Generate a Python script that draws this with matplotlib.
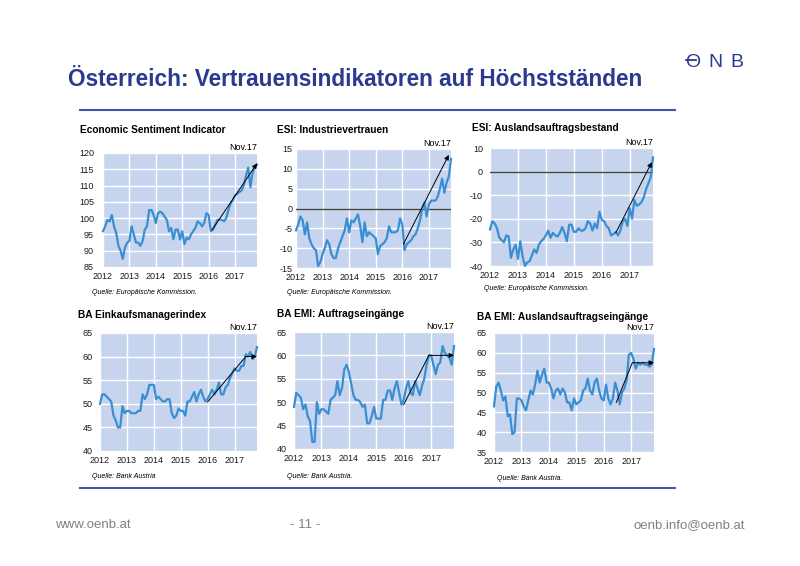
import numpy as np
import matplotlib
matplotlib.use("Agg")
import matplotlib.pyplot as plt

plt.rcParams['font.family'] = ['Liberation Sans', 'DejaVu Sans']
plt.rcParams['axes.unicode_minus'] = False

# Monatswerte Jan 2012 - Nov 2017
esi = [96, 97.5, 99.5, 99, 101, 97.5, 95.5, 91.5, 90, 87.5, 91, 92.5,
       93, 97.5, 95, 92.5, 92.5, 91.5, 93, 96.5, 97.5, 102.5, 102.5, 101,
       98.5, 101.5, 102, 101.5, 100.5, 99.5, 96, 97, 93.5, 96.5, 96.5, 93.5,
       96, 92, 94, 93.5, 95, 96, 97, 99, 98.5, 97.5, 98.5, 101.5,
       101, 96, 96.5, 98, 99.5, 99.5, 99.5, 99, 100, 102.5, 104.5, 105.5,
       107, 107.5, 108, 108.5, 110, 113, 115.5, 109.5, 114, 115.5, 116.5]
industrie = [-5.5, -4, -2, -3, -6.5, -3.5, -7.5, -9, -10, -10.5, -14.5, -13.5,
             -11.5, -10, -8, -9, -11.5, -12.5, -12.5, -10, -8.5, -7, -5.5, -2.5,
             -6, -3, -3.5, -2.5, -1.5, -4.5, -8.5, -3.5, -7, -6, -6.5, -7,
             -7.5, -11.5, -9.5, -9, -8.5, -7.5, -4.5, -6, -6, -6, -5.5, -2.5,
             -4, -10.5, -9, -8.5, -8, -7, -6.5, -5, -3, 0, 1.5, -2,
             1, 2, 2, 2, 3, 5, 7.5, 4, 6.5, 8, 12.5]
ausland_bestand = [-24.5, -21, -22, -24, -28, -29, -30, -27, -27.5, -36.5, -33, -31,
                   -37, -29.5, -36, -40, -38.5, -38, -35.5, -33, -34.5, -31, -29.5, -28.5,
                   -27, -25, -28, -26, -27, -27.5, -26, -23.5, -26, -29.5, -22.5, -22.5,
                   -25.5, -25.5, -24, -25, -25, -24, -21, -22, -25, -22, -24, -17,
                   -20.5, -21, -23, -24, -27, -26.5, -25.5, -27, -25, -21, -20, -23,
                   -15.5, -20, -12, -14.5, -14, -13, -11, -7.5, -5, -2.5, 6]
emi = [50, 52, 52, 51.5, 51, 50.5, 47.5, 46.5, 45, 45, 49.5, 48,
       48.5, 48.5, 48, 48, 48, 48.5, 48.5, 52, 51, 52, 54, 54,
       54, 51, 51.5, 51, 50.5, 50.5, 51, 51, 48, 47, 47.5, 49,
       48.5, 48.5, 47.5, 50.5, 50.5, 51.5, 52.5, 50.5, 52, 53, 51.5, 50.5,
       51, 52, 53, 52, 53, 54.5, 52, 52, 53.5, 54, 55.5, 56.5,
       57.5, 57, 57, 58, 58, 60.5, 60, 61, 59.5, 60, 62]
auftrag = [49, 52, 51.5, 51, 48.5, 49.5, 47, 46, 41.5, 41.5, 50, 47.5,
           48.5, 48.5, 48, 47.5, 50.5, 51, 51.5, 54.5, 51.5, 53, 57, 58,
           56.5, 54, 51.5, 50.5, 50.5, 50, 49, 49.5, 45.5, 45.5, 47, 49,
           46.5, 46.5, 46.5, 50.5, 50.5, 52.5, 52.5, 50.5, 53, 54.5, 52, 49.5,
           50.5, 53, 54.5, 52, 51.5, 54.5, 53, 51.5, 53.5, 55, 58, 60,
           60, 58, 56, 58, 58.5, 62, 60.5, 60, 59.5, 58, 62]
ausland_auftrag = [46.5, 51.5, 52.5, 50.5, 48, 49, 44, 44.5, 39.5, 40, 48.5, 48.5,
                   48, 46.5, 45.5, 48, 50.5, 49.5, 52, 55.5, 52.5, 54.5, 56, 52.5,
                   52.5, 51, 48.5, 50.5, 51, 49.5, 51, 50, 47.5, 47.5, 45.5, 48.5,
                   47, 47.5, 48, 50.5, 51, 53.5, 50.5, 49.5, 52.5, 53.5, 50.5, 48.5,
                   48, 52, 48.5, 47, 48.5, 52.5, 50.5, 47, 50, 51, 53, 59.5,
                   60, 58.5, 56, 57.5, 57, 57.5, 57, 57, 56.5, 57, 61]

jahre = ['2012', '2013', '2014', '2015', '2016', '2017']

titel = ['Economic Sentiment Indicator', 'ESI: Industrievertrauen', 'ESI: Auslandsauftragsbestand',
         'BA Einkaufsmanagerindex', 'BA EMI: Auftragseingänge', 'BA EMI: Auslandsauftragseingänge']
quellen = ['Quelle: Europäische Kommission.'] * 3 + ['Quelle: Bank Austria', 'Quelle: Bank Austria.',
                                                     'Quelle: Bank Austria.']
ylims = [(85, 120, 5), (-15, 15, 5), (-40, 10, 10), (40, 65, 5), (40, 65, 5), (35, 65, 5)]
# Pfeile (Monat, Wert): Start, evtl. Knick, Ende
pfeile = [[(49.5, 96.3), (70, 116.8)],
          [(48.5, -9), (69, 13.5)],
          [(54, -26), (69.5, 4)],
          [(48, 50.4), (65, 60), (70, 60)],
          [(48, 49.5), (59, 60), (70, 60)],
          [(53.5, 47.5), (60.5, 57.5), (70, 57.5)]]
nulllinie = [False, True, True, False, False, False]
serien = [esi, industrie, ausland_bestand, emi, auftrag, ausland_auftrag]

W, H = 800, 566
boxes = [(103, 257, 153, 267), (296, 451, 149, 268), (490, 653, 148, 266),
         (100, 257, 333, 451), (294, 454, 332, 449), (494, 654, 333, 452)]
ypads = [6.5, 2.5, 5, 5.5, 5, 5]
titel_pos = [(80, 130), (277, 130), (472, 128), (78, 315), (277, 314), (477, 317)]
quelle_pos = [(92, 292), (287, 292), (484, 288), (92, 477), (287, 477), (497, 478)]

blau_dunkel = '#2b3a8f'
linie = '#3a8fd3'
bg = '#c6d4ee'

fig = plt.figure(figsize=(8, 5.66), dpi=100)

for i, werte in enumerate(serien):
    l, r, t, b = boxes[i]
    ax = fig.add_axes([l / W, 1 - b / H, (r - l) / W, (b - t) / H])
    ax.set_facecolor(bg)
    x = np.arange(len(werte))
    ymin, ymax, step = ylims[i]
    ax.set_xlim(0, 70)
    ax.set_ylim(ymin, ymax)
    ax.set_yticks(np.arange(ymin, ymax + 0.1, step))
    ax.set_xticks(np.arange(0, 61, 12))
    ax.set_xticklabels(jahre)
    ax.grid(True, color='white', lw=1)
    ax.set_axisbelow(True)
    for s in ax.spines.values():
        s.set_visible(False)
    ax.tick_params(length=0, labelsize=6.5, colors='#1a1a1a')
    ax.tick_params(axis='x', pad=3.5)
    ax.tick_params(axis='y', pad=ypads[i])
    if nulllinie[i]:
        ax.axhline(0, color='#444444', lw=1, zorder=2)
    ax.plot(x, werte, color=linie, lw=1.6, zorder=3, clip_on=False)

    p = pfeile[i]
    if len(p) == 3:
        ax.plot([p[0][0], p[1][0]], [p[0][1], p[1][1]], color='black', lw=0.7, zorder=4)
    ax.annotate('', xy=p[-1], xytext=p[-2], zorder=5,
                arrowprops=dict(arrowstyle='-|>', color='black', lw=0.7, mutation_scale=7,
                                shrinkA=0, shrinkB=0))
    ax.text(1, 1.01, 'Nov.17', transform=ax.transAxes, ha='right', va='bottom', fontsize=6.5)

    tx, ty = titel_pos[i]
    fig.text(tx / W, 1 - ty / H, titel[i], fontsize=7.3, fontweight='bold', va='center')
    qx, qy = quelle_pos[i]
    fig.text(qx / W, 1 - qy / H, quellen[i], fontsize=5, style='italic', va='center')

# Kopf und Fuss
fig.text(68 / W, 1 - 79 / H, 'Österreich: Vertrauensindikatoren auf Höchstständen',
         fontsize=16.3, fontweight='bold', color=blau_dunkel, va='center')
for buchstabe, bx in zip('ONB', [692.5, 715, 737]):
    fig.text(bx / W, 1 - 67 / H, buchstabe, fontsize=14, color=blau_dunkel,
             ha='center', va='baseline')
fig.add_artist(plt.Line2D([686 / W, 696 / W], [1 - 60 / H] * 2, color=blau_dunkel, lw=1.3))
fig.add_artist(plt.Line2D([80 / W, 675 / W], [1 - 110 / H] * 2, color='#4456a8', lw=1.5))
fig.add_artist(plt.Line2D([80 / W, 675 / W], [1 - 488 / H] * 2, color='#4456a8', lw=1.5))
fig.text(55 / W, 1 - 525 / H, 'www.oenb.at', fontsize=9.5, color='#808080', va='center')
fig.text(305 / W, 1 - 525 / H, '- 11 -', fontsize=9.5, color='#808080', va='center', ha='center')
fig.text(745 / W, 1 - 525 / H, 'oenb.info@oenb.at', fontsize=9.5, color='#808080', va='center', ha='right')

fig.savefig('out.png', dpi=100)
